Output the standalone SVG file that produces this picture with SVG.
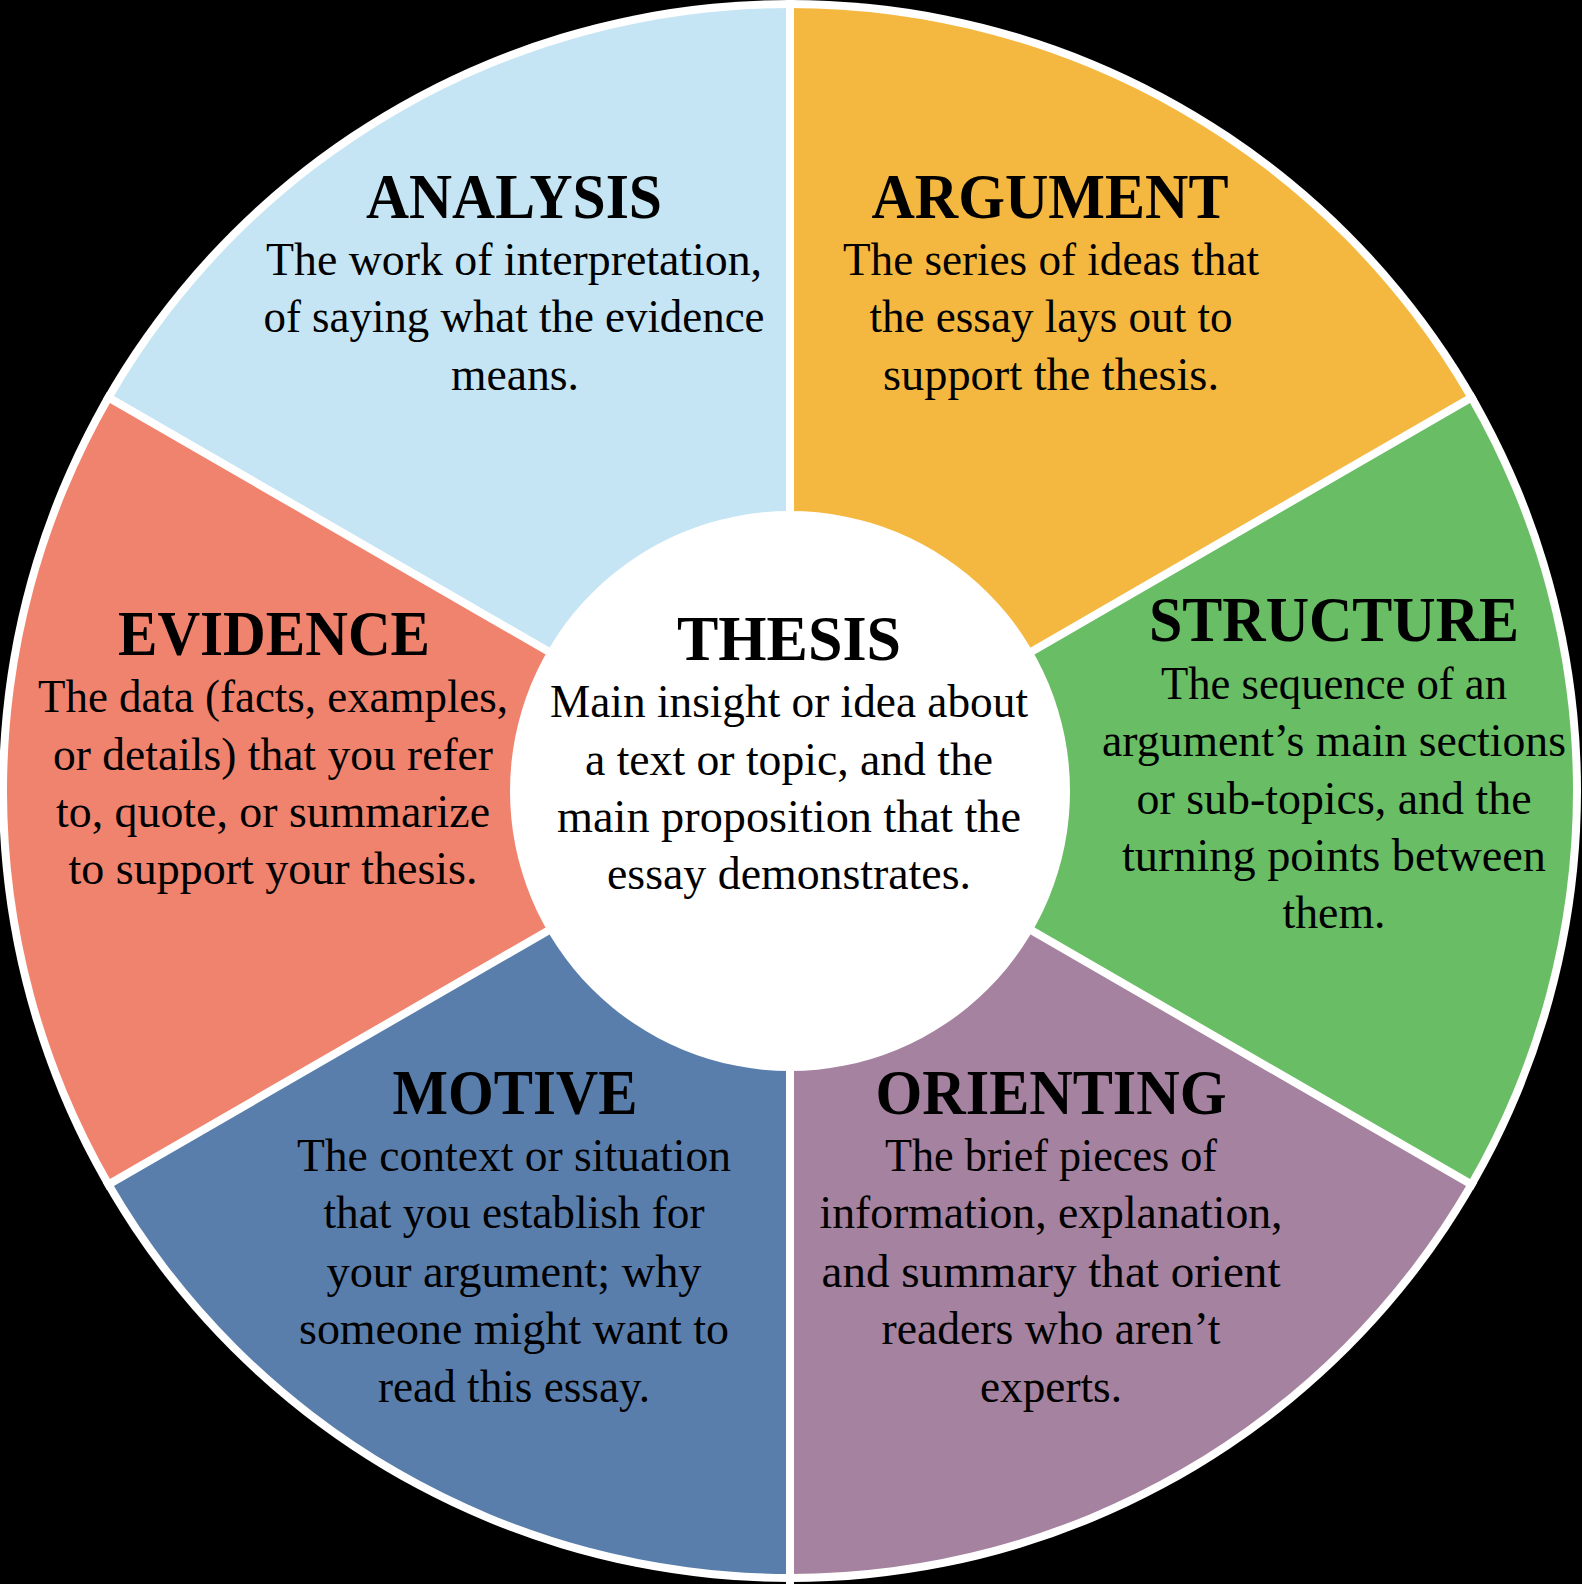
<svg xmlns="http://www.w3.org/2000/svg" width="1582" height="1584" viewBox="0 0 1582 1584">
<style>
.title{font-family:"Liberation Serif","Times New Roman",serif;font-weight:bold;font-size:64px;fill:#000;text-anchor:middle}
.body{font-family:"Liberation Serif","Times New Roman",serif;font-size:46px;fill:#000;text-anchor:middle}
.sep{stroke:#fff;stroke-width:8;fill:none}
</style>
<rect x="0" y="0" width="1582" height="1584" fill="#000"/>
<circle cx="790" cy="791" r="791" fill="#fff"/>
<g id="argument">
<path d="M790,791 L790,8 A783,783 0 0 1 1468.1,399.5 Z" fill="#F4B840"/>
<text class="title" x="1050" y="218" textLength="357" lengthAdjust="spacingAndGlyphs">ARGUMENT</text>
<text class="body" x="1051" y="275" textLength="416" lengthAdjust="spacingAndGlyphs">The series of ideas that</text>
<text class="body" x="1051" y="332" textLength="363" lengthAdjust="spacingAndGlyphs">the essay lays out to</text>
<text class="body" x="1051" y="390" textLength="336" lengthAdjust="spacingAndGlyphs">support the thesis.</text>
</g>
<g id="structure">
<path d="M790,791 L1468.1,399.5 A783,783 0 0 1 1468.1,1182.5 Z" fill="#69BD64"/>
<text class="title" x="1334" y="641" textLength="370" lengthAdjust="spacingAndGlyphs">STRUCTURE</text>
<text class="body" x="1334" y="699" textLength="346" lengthAdjust="spacingAndGlyphs">The sequence of an</text>
<text class="body" x="1334" y="756" textLength="464" lengthAdjust="spacingAndGlyphs">argument’s main sections</text>
<text class="body" x="1334" y="814" textLength="395" lengthAdjust="spacingAndGlyphs">or sub-topics, and the</text>
<text class="body" x="1334" y="871" textLength="424" lengthAdjust="spacingAndGlyphs">turning points between</text>
<text class="body" x="1334" y="928" textLength="103" lengthAdjust="spacingAndGlyphs">them.</text>
</g>
<g id="orienting">
<path d="M790,791 L1468.1,1182.5 A783,783 0 0 1 790,1574 Z" fill="#A5829F"/>
<text class="title" x="1051" y="1114" textLength="351" lengthAdjust="spacingAndGlyphs">ORIENTING</text>
<text class="body" x="1051" y="1171" textLength="332" lengthAdjust="spacingAndGlyphs">The brief pieces of</text>
<text class="body" x="1051" y="1228" textLength="463" lengthAdjust="spacingAndGlyphs">information, explanation,</text>
<text class="body" x="1051" y="1287" textLength="459" lengthAdjust="spacingAndGlyphs">and summary that orient</text>
<text class="body" x="1051" y="1344" textLength="339" lengthAdjust="spacingAndGlyphs">readers who aren’t</text>
<text class="body" x="1051" y="1402" textLength="142" lengthAdjust="spacingAndGlyphs">experts.</text>
</g>
<g id="motive">
<path d="M790,791 L790,1574 A783,783 0 0 1 111.9,1182.5 Z" fill="#5A7EAB"/>
<text class="title" x="515" y="1114" textLength="245" lengthAdjust="spacingAndGlyphs">MOTIVE</text>
<text class="body" x="514" y="1171" textLength="434" lengthAdjust="spacingAndGlyphs">The context or situation</text>
<text class="body" x="514" y="1228" textLength="381" lengthAdjust="spacingAndGlyphs">that you establish for</text>
<text class="body" x="514" y="1287" textLength="375" lengthAdjust="spacingAndGlyphs">your argument; why</text>
<text class="body" x="514" y="1344" textLength="430" lengthAdjust="spacingAndGlyphs">someone might want to</text>
<text class="body" x="514" y="1402" textLength="272" lengthAdjust="spacingAndGlyphs">read this essay.</text>
</g>
<g id="evidence">
<path d="M790,791 L111.9,1182.5 A783,783 0 0 1 111.9,399.5 Z" fill="#F0836E"/>
<text class="title" x="274" y="655" textLength="312" lengthAdjust="spacingAndGlyphs">EVIDENCE</text>
<text class="body" x="273" y="712" textLength="470" lengthAdjust="spacingAndGlyphs">The data (facts, examples,</text>
<text class="body" x="273" y="770" textLength="440" lengthAdjust="spacingAndGlyphs">or details) that you refer</text>
<text class="body" x="273" y="827" textLength="434" lengthAdjust="spacingAndGlyphs">to, quote, or summarize</text>
<text class="body" x="273" y="884" textLength="409" lengthAdjust="spacingAndGlyphs">to support your thesis.</text>
</g>
<g id="analysis">
<path d="M790,791 L111.9,399.5 A783,783 0 0 1 790,8 Z" fill="#C5E5F4"/>
<text class="title" x="514" y="218" textLength="296" lengthAdjust="spacingAndGlyphs">ANALYSIS</text>
<text class="body" x="514" y="275" textLength="496" lengthAdjust="spacingAndGlyphs">The work of interpretation,</text>
<text class="body" x="514" y="332" textLength="501" lengthAdjust="spacingAndGlyphs">of saying what the evidence</text>
<text class="body" x="515" y="390" textLength="128" lengthAdjust="spacingAndGlyphs">means.</text>
</g>
<g id="connectors">
<line class="sep" x1="790" y1="791" x2="790" y2="0"/>
<line class="sep" x1="790" y1="791" x2="1475" y2="395.5"/>
<line class="sep" x1="790" y1="791" x2="1475" y2="1186.5"/>
<line class="sep" x1="790" y1="791" x2="790" y2="1584"/>
<line class="sep" x1="790" y1="791" x2="105" y2="1186.5"/>
<line class="sep" x1="790" y1="791" x2="105" y2="395.5"/>
</g>
<g id="thesis">
<circle cx="790" cy="791" r="280" fill="#fff"/>
<text class="title" x="789" y="660" textLength="224" lengthAdjust="spacingAndGlyphs">THESIS</text>
<text class="body" x="789" y="717" textLength="478" lengthAdjust="spacingAndGlyphs">Main insight or idea about</text>
<text class="body" x="789" y="775" textLength="408" lengthAdjust="spacingAndGlyphs">a text or topic, and the</text>
<text class="body" x="789" y="832" textLength="464" lengthAdjust="spacingAndGlyphs">main proposition that the</text>
<text class="body" x="789" y="889" textLength="364" lengthAdjust="spacingAndGlyphs">essay demonstrates.</text>
</g>
</svg>
